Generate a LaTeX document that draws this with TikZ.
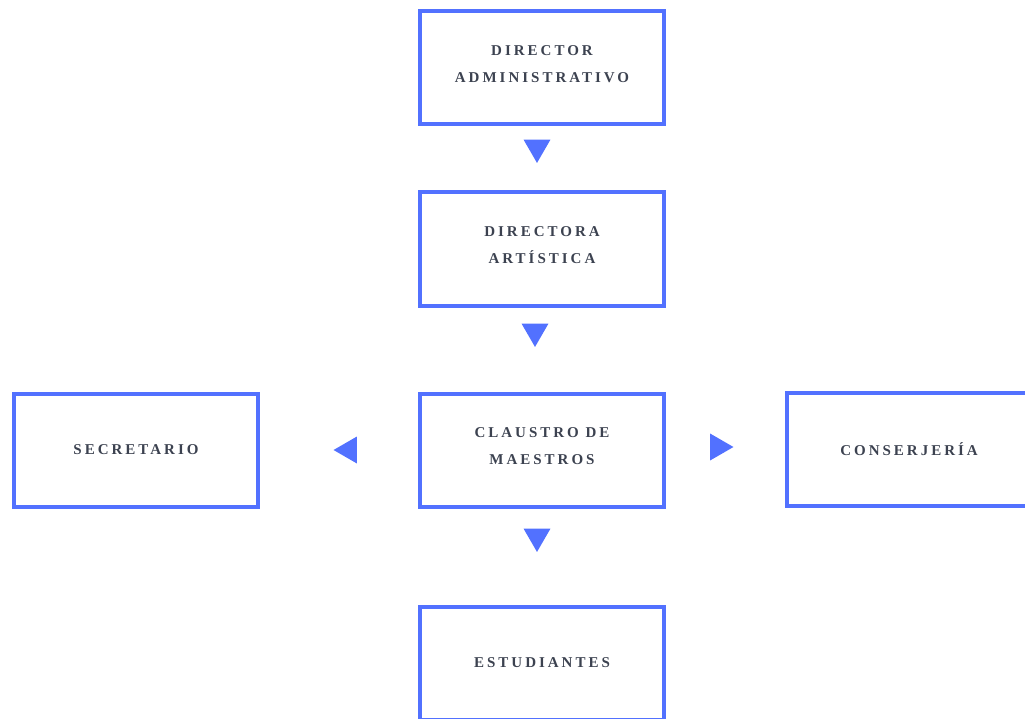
\documentclass[tikz,border=0pt]{standalone}
\usepackage{fontspec}
\newfontfamily\orgfont{Liberation Serif}[LetterSpace=20]
\usetikzlibrary{positioning,shapes.geometric}
\definecolor{cajaazul}{HTML}{5271FF}
\definecolor{textogris}{HTML}{3C4250}

\begin{document}
\begin{tikzpicture}[x=1pt,y=1pt,
      cargo/.style={draw=cajaazul, line width=4pt, minimum width=244pt, minimum height=113pt,
        align=center, text=textogris, font=\orgfont\bfseries\fontsize{15}{27}\selectfont},
      doble/.style={cargo, text depth=8pt},
      flecha/.style={regular polygon, regular polygon sides=3, fill=cajaazul,
        inner sep=0pt, minimum size=31pt},
      abajo/.style={flecha, shape border rotate=180},
      haciaizq/.style={flecha, shape border rotate=90},
      haciader/.style={flecha, shape border rotate=-90}]
      \useasboundingbox (0,0) rectangle (1025,-719);
      \clip (0,0) rectangle (1025,-719);
      \node[doble] (diradm) at (542,-68) {DIRECTOR\\ADMINISTRATIVO};
      \node[doble, below=64pt of diradm] (dirart) {DIRECTORA\\ARTÍSTICA};
      \node[doble, below=84pt of dirart] (claustro) {CLAUSTRO DE\\MAESTROS};
      \node[cargo, left=158pt of claustro] (secre) {SECRETARIO};
      \node[cargo, right=119pt of claustro, yshift=1pt] (conser) {CONSERJERÍA};
      \node[cargo, below=96pt of claustro] (estud) {ESTUDIANTES}; % cortado por abajo
      \node[abajo, below=13pt of diradm, xshift=-5pt] (f1) {};
      \node[abajo, below=16pt of dirart, xshift=-7pt] (f2) {};
      \node[abajo, below=20pt of claustro, xshift=-5pt] (f3) {};
      \node[haciaizq, left=61pt of claustro] (f4) {};
      \node[haciader, right=44pt of claustro, yshift=3pt] (f5) {};
    \end{tikzpicture}
\end{document}
